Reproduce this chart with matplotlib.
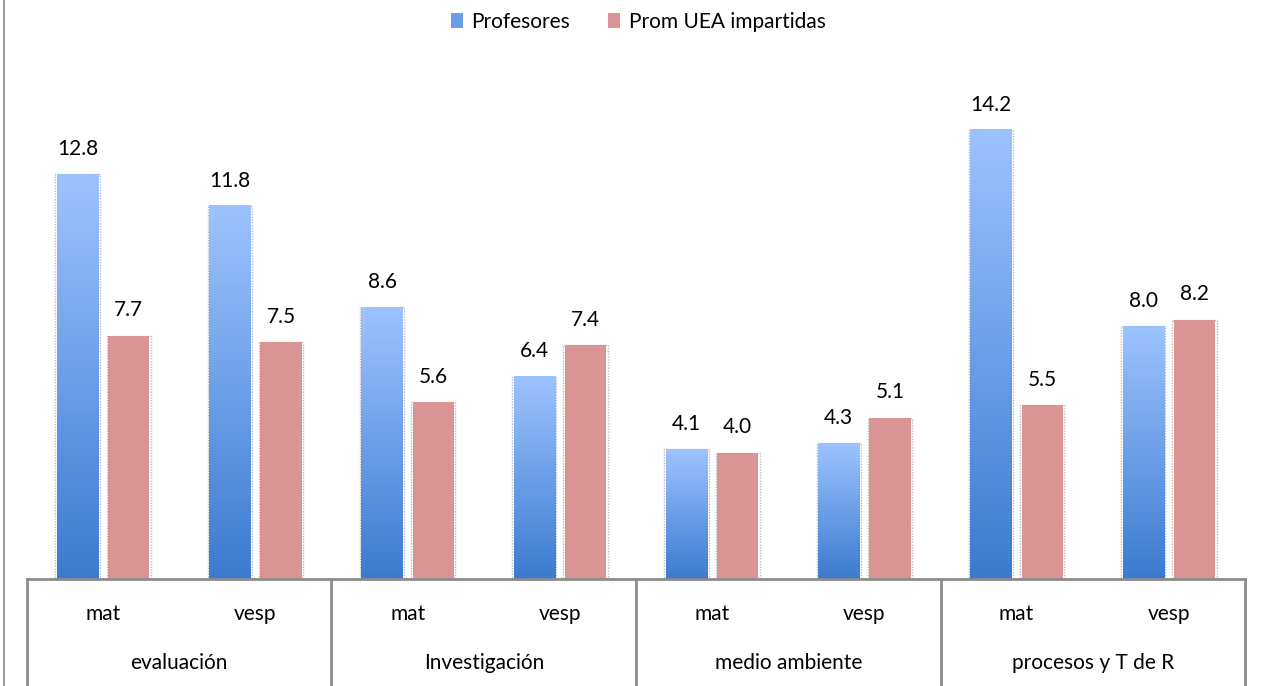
import numpy as np
import matplotlib
matplotlib.use("Agg")
import matplotlib.pyplot as plt
from matplotlib.colors import LinearSegmentedColormap
from matplotlib.patches import Rectangle
from matplotlib.lines import Line2D

plt.rcParams['font.family'] = ['Lato', 'DejaVu Sans']

groups = ["evaluación", "Investigación", "medio ambiente", "procesos y T de R"]
shifts = ["mat", "vesp"]
profesores = [12.8, 11.8, 8.6, 6.4, 4.1, 4.3, 14.2, 8.0]
prom_uea = [7.7, 7.5, 5.6, 7.4, 4.0, 5.1, 5.5, 8.2]
series_names = ["Profesores", "Prom UEA impartidas"]

W, H = 1262, 686
fig = plt.figure(figsize=(W / 100, H / 100), dpi=100)
x0, x1 = 27, 1245
base_y = 579
top_y = 50
ax = fig.add_axes([x0 / W, (H - base_y) / H, (x1 - x0) / W, (base_y - top_y) / H])
ymax = (base_y - top_y) / 31.62
n = len(profesores)
ax.set_xlim(0, n)
ax.set_ylim(0, ymax)
ax.axis('off')

blue_cmap = LinearSegmentedColormap.from_list("b", ["#3B7BCF", "#9DC3FF"])
pink = "#D99594"
grad = np.linspace(0, 1, 256).reshape(-1, 1)
bw = 0.27
off = 0.168
fs = 15

for i in range(n):
    cx = i + 0.5
    v = profesores[i]
    bl = cx - off - bw / 2
    ax.imshow(grad, cmap=blue_cmap, origin='lower', aspect='auto',
              extent=(bl, bl + bw, 0, v), zorder=2)
    ax.add_patch(Rectangle((bl - 0.01, 0), bw + 0.02, v, fill=False,
                           edgecolor="#BBBBBB", linestyle=(0, (1, 1)), lw=1, zorder=1))
    ax.text(cx - off, v + 0.8, f"{v:.1f}", ha='center', va='center', fontsize=fs, color='black')
    p = prom_uea[i]
    pl = cx + off - bw / 2
    ax.add_patch(Rectangle((pl, 0), bw, p, facecolor=pink, edgecolor='none', zorder=2))
    ax.add_patch(Rectangle((pl - 0.01, 0), bw + 0.02, p, fill=False,
                           edgecolor="#BBBBBB", linestyle=(0, (1, 1)), lw=1, zorder=1))
    ax.text(cx + off, p + 0.8, f"{p:.1f}", ha='center', va='center', fontsize=fs, color='black')

ax.set_xlim(0, n)
ax.set_ylim(0, ymax)

def fx(px):
    return px / W

def fy(py):
    return 1 - py / H

axis_color = "#8C8C8C"
fig.add_artist(Line2D([fx(x0), fx(x1)], [fy(base_y), fy(base_y)], color=axis_color, lw=2))
cat_w = (x1 - x0) / n
for g in range(len(groups) + 1):
    xp = x0 + g * 2 * cat_w
    fig.add_artist(Line2D([fx(xp), fx(xp)], [fy(base_y), fy(H)], color=axis_color, lw=2))
for i in range(n):
    xp = x0 + (i + 0.5) * cat_w
    fig.text(fx(xp), fy(614), shifts[i % 2], ha='center', va='center', fontsize=fs)
for g, name in enumerate(groups):
    xp = x0 + (g * 2 + 1) * cat_w
    fig.text(fx(xp), fy(663), name, ha='center', va='center', fontsize=fs)

fig.add_artist(Line2D([fx(4), fx(4)], [0, 1], color="#9A9A9A", lw=1.5))

handles = [Rectangle((0, 0), 1, 1, facecolor="#6A9FE8", edgecolor='none'),
           Rectangle((0, 0), 1, 1, facecolor=pink, edgecolor='none')]
fig.legend(handles, series_names, loc='center', bbox_to_anchor=(fx(638), fy(22)),
           ncol=2, frameon=False, fontsize=fs, handlelength=0.6, handleheight=0.7,
           handletextpad=0.4, columnspacing=1.8)

fig.savefig("out.png", dpi=100)
